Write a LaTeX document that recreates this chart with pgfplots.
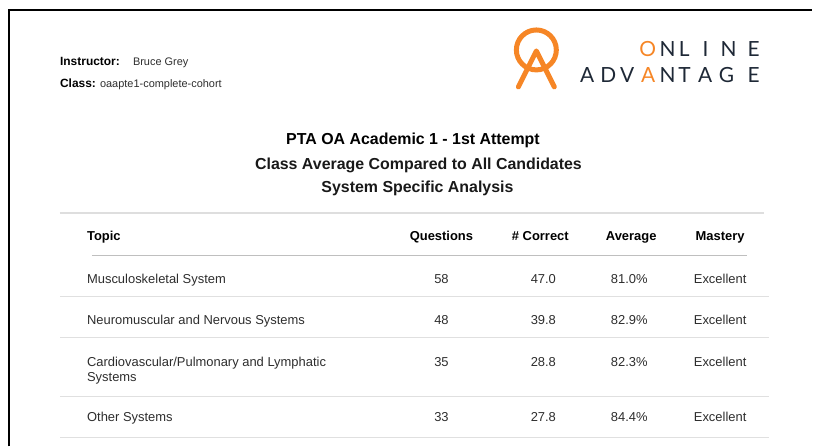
\documentclass[border=0pt]{standalone}
\usepackage{pgfplots}
\usepackage{pgfplotstable}
\pgfplotsset{compat=1.18}
\usepackage{fontspec}
\setmainfont{Liberation Sans}
\newfontfamily\logofont{Lato}
\definecolor{oaorange}{RGB}{246,134,38}
\definecolor{oanavy}{RGB}{30,40,54}
\definecolor{bodytxt}{RGB}{45,45,45}

\pgfplotstableread[col sep=comma]{
y,q,c,a,m
284,58,47.0,81.0,Excellent
325,48,39.8,82.9,Excellent
367,35,28.8,82.3,Excellent
422,33,27.8,84.4,Excellent
}\resulttable

\tikzset{
  lg/.style={anchor=base, inner sep=0pt, font=\logofont\fontsize{21}{24}\selectfont, text=oanavy},
  lo/.style={anchor=base, inner sep=0pt, font=\logofont\fontsize{21}{24}\selectfont, text=oaorange},
  hd/.style={anchor=base, inner sep=0pt, font=\fontsize{13}{16}\selectfont\bfseries},
  tp/.style={anchor=base west, inner sep=0pt, font=\fontsize{13}{16}\selectfont, text=bodytxt},
}

\begin{document}
\begin{tikzpicture}
\begin{axis}[
  scale only axis, width=813bp, height=447bp,
  xmin=0, xmax=813, ymin=0, ymax=447, y dir=reverse,
  axis lines=none, clip=false, ticks=none,
  every node near coord/.append style={anchor=base, inner sep=0pt, font=\fontsize{13}{16}\selectfont, text=bodytxt},
]
% full page extent
\path (axis cs:0,0) rectangle (axis cs:813,447);
% page frame
\draw[black, line width=2bp] (axis cs:9,447) -- (axis cs:9,10) -- (axis cs:813,10);

% instructor / class
\node[anchor=base west, inner sep=0pt, font=\fontsize{12}{14}\selectfont\bfseries] at (axis cs:60,65.5) {Instructor:};
\node[anchor=base west, inner sep=0pt, font=\fontsize{11}{14}\selectfont, text=bodytxt] at (axis cs:133,65.5) {Bruce Grey};
\node[anchor=base west, inner sep=0pt, font=\fontsize{12}{14}\selectfont\bfseries] at (axis cs:60,87.5) {Class:};
\node[anchor=base west, inner sep=0pt, font=\fontsize{11}{14}\selectfont, text=bodytxt] at (axis cs:100,87.5) {oaapte1-complete-cohort};

% logo mark
\draw[oaorange, line width=5bp] (axis cs:537,50) circle[radius=20bp];
\draw[oaorange, line width=5bp, line cap=round, line join=round] (axis cs:519,87) -- (axis cs:537,51) -- (axis cs:555,87);

% logo text
\node[lo] at (axis cs:648.5,56.7) {O};
\node[lg] at (axis cs:668.5,56.7) {N};
\node[lg] at (axis cs:685,56.7) {L};
\node[lg] at (axis cs:706.5,56.7) {I};
\node[lg] at (axis cs:729.5,56.7) {N};
\node[lg] at (axis cs:754.5,56.7) {E};
\node[lg] at (axis cs:588,82.7) {A};
\node[lg] at (axis cs:609,82.7) {D};
\node[lg] at (axis cs:628,82.7) {V};
\node[lo] at (axis cs:649,82.7) {A};
\node[lg] at (axis cs:668.5,82.7) {N};
\node[lg] at (axis cs:685.5,82.7) {T};
\node[lg] at (axis cs:706,82.7) {A};
\node[lg] at (axis cs:727.5,82.7) {G};
\node[lg] at (axis cs:754.5,82.7) {E};

% titles
\node[anchor=base, inner sep=0pt, font=\fontsize{16}{19}\selectfont\bfseries] at (axis cs:413.5,145) {PTA OA Academic 1 - 1st Attempt};
\node[anchor=base, inner sep=0pt, font=\fontsize{16}{19}\selectfont\bfseries, text=black!90] at (axis cs:419,170) {Class Average Compared to All Candidates};
\node[anchor=base, inner sep=0pt, font=\fontsize{16}{19}\selectfont\bfseries, text=black!90] at (axis cs:418,193) {System Specific Analysis};

% table rules
\draw[black!13, line width=2bp] (axis cs:60,213) -- (axis cs:765,213);
\draw[black!25, line width=0.8bp] (axis cs:92,256) -- (axis cs:748,256);
\draw[black!12, line width=1.5bp] (axis cs:60,297) -- (axis cs:770,297);
\draw[black!12, line width=1.5bp] (axis cs:60,338) -- (axis cs:770,338);
\draw[black!12, line width=1.5bp] (axis cs:60,397) -- (axis cs:770,397);
\draw[black!12, line width=1.5bp] (axis cs:60,438) -- (axis cs:770,438);

% header
\node[anchor=base west, inner sep=0pt, font=\fontsize{13}{16}\selectfont\bfseries] at (axis cs:87,241) {Topic};
\node[hd] at (axis cs:442,241) {Questions};
\node[hd] at (axis cs:541,241) {\# Correct};
\node[hd] at (axis cs:632,241) {Average};
\node[hd] at (axis cs:721,241) {Mastery};

% topics
\node[tp] at (axis cs:87,284) {Musculoskeletal System};
\node[tp] at (axis cs:87,325) {Neuromuscular and Nervous Systems};
\node[tp] at (axis cs:87,367) {Cardiovascular/Pulmonary and Lymphatic};
\node[tp] at (axis cs:87,382) {Systems};
\node[tp] at (axis cs:87,422) {Other Systems};

% values
\addplot[draw=none, mark=none, nodes near coords, point meta=explicit symbolic] table[x expr=442, y=y, meta=q] {\resulttable};
\addplot[draw=none, mark=none, nodes near coords, point meta=explicit symbolic] table[x expr=544, y=y, meta=c] {\resulttable};
\addplot[draw=none, mark=none, nodes near coords={\pgfplotspointmeta\%}, point meta=explicit symbolic] table[x expr=630, y=y, meta=a] {\resulttable};
\addplot[draw=none, mark=none, nodes near coords, point meta=explicit symbolic] table[x expr=721, y=y, meta=m] {\resulttable};
\end{axis}
\end{tikzpicture}
\end{document}
